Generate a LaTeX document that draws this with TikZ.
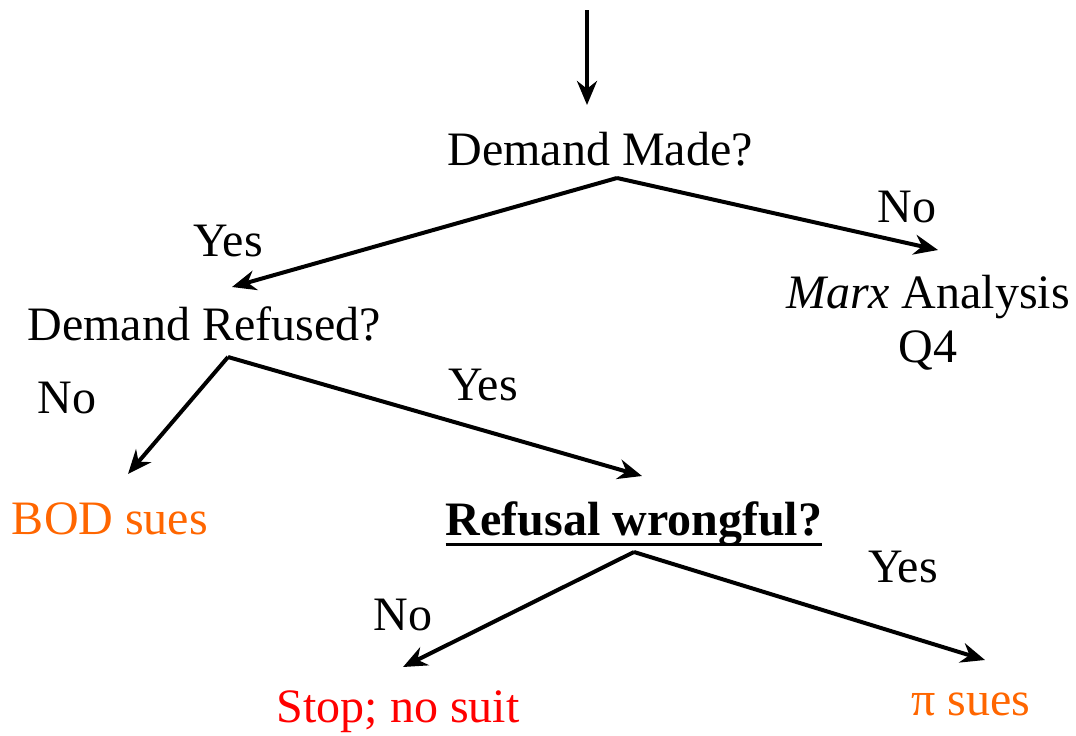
\documentclass[tikz,border=0pt]{standalone}
\usepackage{fontspec}
\setmainfont{Liberation Serif}
\usetikzlibrary{arrows.meta}
\definecolor{sueorange}{RGB}{255,102,0}
\definecolor{stopred}{RGB}{255,0,0}
\begin{document}
\begin{tikzpicture}[x=1pt,y=-1pt,
    txt/.style={inner sep=0pt,anchor=base,font=\fontsize{48}{56}\selectfont},
    branch/.style={line width=4pt,-{Stealth[length=24pt,width=20pt]}}]
  \useasboundingbox (0,0) rectangle (1076,736);
  % questions
  \node[txt] (made) at (600,165) {Demand Made?};
  \node[txt] (refused) at (204,340) {Demand Refused?};
  \node[txt,font=\fontsize{48}{56}\selectfont\bfseries] (wrong) at (634,535) {Refusal wrongful?};
  \draw[line width=3pt] ([yshift=-9pt]wrong.base west) -- ([yshift=-9pt]wrong.base east);
  % outcomes
  \node[txt] (marx) at (928,308) {\textit{Marx} Analysis};
  \node[txt] (q4) at (928,362) {Q4};
  \node[txt,text=sueorange] (bod) at (110,534) {BOD sues};
  \node[txt,text=stopred] (stop) at (398,722) {Stop; no suit};
  \node[txt,text=sueorange] (pisues) at (971,715) {π sues};
  % branch points
  \coordinate (start) at (587,10);
  \coordinate (madeApex) at (617,178);
  \coordinate (refApex) at (228,357);
  \coordinate (wrongApex) at (634,552);
  \coordinate (toRefused) at (232,287);
  \coordinate (toMarx) at (938,250);
  \coordinate (toBod) at (128,474);
  \coordinate (toWrong) at (642,476);
  \coordinate (toStop) at (403,667);
  \coordinate (toPi) at (985,660);
  % arrows
  \draw[branch] (start) -- (587,105);
  \draw[branch] (madeApex) -- (toRefused);
  \draw[branch] (madeApex) -- (toMarx);
  \draw[branch] (refApex) -- (toBod);
  \draw[branch] (refApex) -- (toWrong);
  \draw[branch] (wrongApex) -- (toStop);
  \draw[branch] (wrongApex) -- (toPi);
  % yes / no labels
  \node[txt] (yes1) at (228,256) {Yes};
  \node[txt] (no1) at (907,222) {No};
  \node[txt] (no2) at (67,413) {No};
  \node[txt] (yes2) at (483,400) {Yes};
  \node[txt] (yes3) at (903,582) {Yes};
  \node[txt] (no3) at (403,630) {No};
\end{tikzpicture}
\end{document}
